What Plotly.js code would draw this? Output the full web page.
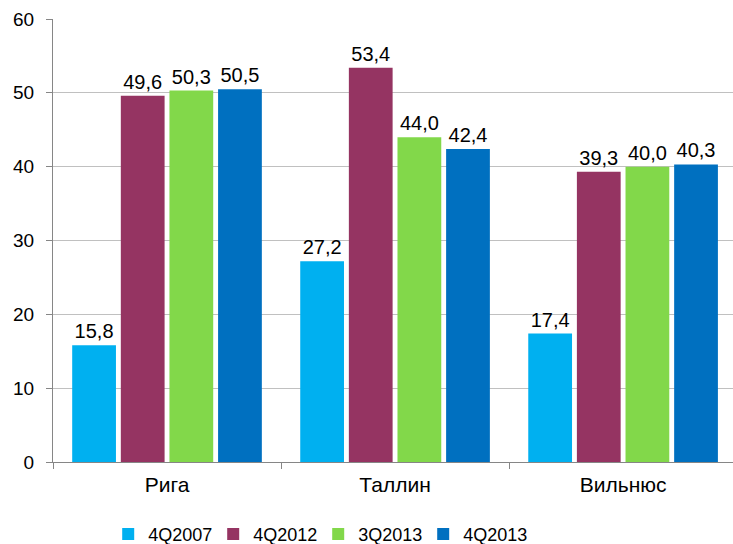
<!DOCTYPE html>
<html>
<head>
<meta charset="utf-8">
<script src="https://cdn.plot.ly/plotly-3.0.1.min.js"></script>
<style>html,body{margin:0;padding:0;background:#fff}</style>
</head>
<body>
<div id="chart" style="width:733px;height:544px"></div>
<script>
const categories = ["Рига", "Таллин", "Вильнюс"];
const seriesNames = ["4Q2007", "4Q2012", "3Q2013", "4Q2013"];
const v4Q2007 = [15.8, 27.2, 17.4];
const v4Q2012 = [49.6, 53.4, 39.3];
const v3Q2013 = [50.3, 44.0, 40.0];
const v4Q2013 = [50.5, 42.4, 40.3];
const yTicks = [0, 10, 20, 30, 40, 50, 60];

const values = [v4Q2007, v4Q2012, v3Q2013, v4Q2013];
const colors = ["#00B0F0", "#953462", "#82D84A", "#0070C0"];
const font = "Liberation Sans, Arial, sans-serif";

const traces = seriesNames.map((name, i) => ({
  type: "bar",
  name: name,
  x: categories,
  y: values[i],
  marker: {color: colors[i], line: {width: 0}},
  texttemplate: "%{y:.1f}",
  textposition: "outside",
  cliponaxis: false,
  textfont: {family: font, size: 20, color: "#000"},
  hoverinfo: "skip"
}));

const layout = {
  width: 733, height: 544,
  margin: {l: 53, r: 0, t: 19, b: 82},
  paper_bgcolor: "#fff", plot_bgcolor: "#fff",
  separators: ", ",
  barmode: "group",
  bargap: 0.147,
  bargroupgap: 0.1,
  showlegend: true,
  legend: {
    orientation: "h", x: 0.39, xanchor: "center",
    yref: "container", y: 0.018, yanchor: "middle",
    font: {family: font, size: 18, color: "#000"},
    itemwidth: 30, traceorder: "normal",
    entrywidth: 60, entrywidthmode: "pixels"
  },
  xaxis: {
    type: "category",
    range: [-0.5, 2.482],
    showline: true, linecolor: "#868686", linewidth: 1,
    ticks: "outside", tickson: "boundaries", ticklen: 6, tickcolor: "#868686",
    tickfont: {family: font, size: 21, color: "#000"},
    ticklabelstandoff: 4,
    showgrid: false, zeroline: false, fixedrange: true
  },
  yaxis: {
    range: [0, 60],
    tickvals: yTicks,
    ticktext: yTicks.map(String),
    showline: true, linecolor: "#868686", linewidth: 1,
    ticks: "outside", ticklen: 6, tickcolor: "#868686",
    tickfont: {family: font, size: 19, color: "#000"},
    ticklabelstandoff: 8,
    showgrid: true, gridcolor: "#C0C0C0", gridwidth: 1,
    zeroline: false, fixedrange: true
  }
};

Plotly.newPlot("chart", traces, layout, {staticPlot: true, displayModeBar: false});
</script>
</body>
</html>
